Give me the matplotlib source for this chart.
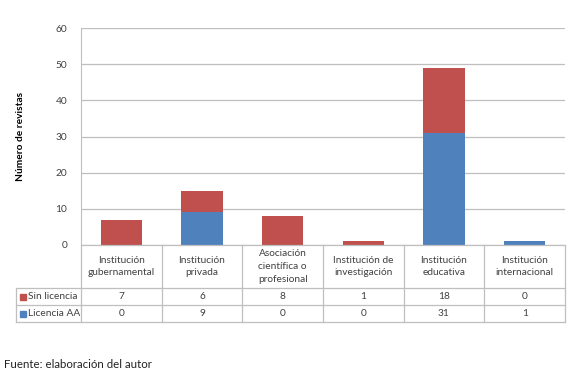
import numpy as np
import matplotlib.pyplot as plt
from matplotlib.lines import Line2D
from matplotlib.patches import Rectangle

plt.rcParams['font.family'] = ['Lato', 'DejaVu Sans']

categories = ["Institución\ngubernamental", "Institución\nprivada",
              "Asociación\ncientífica o\nprofesional", "Institución de\ninvestigación",
              "Institución\neducativa", "Institución\ninternacional"]
licencia_aa = [0, 9, 0, 0, 31, 1]
sin_licencia = [7, 6, 8, 1, 18, 0]
series_names = ["Sin licencia", "Licencia AA"]

RED = "#C0504D"
BLUE = "#4F81BD"
GRID = "#BFBFBF"
TEXT = "#404040"

W, H = 571, 379
fig = plt.figure(figsize=(W / 100, H / 100), dpi=100)

def fx(px):
    return px / W

def fy(py):
    return 1 - py / H

# plot area in pixel coords
left, right, top, bottom = 81, 565, 28, 245
ax = fig.add_axes([fx(left), fy(bottom), fx(right - left), (bottom - top) / H])

x = np.arange(len(categories))
ax.bar(x, licencia_aa, width=0.51, color=BLUE, zorder=3)
ax.bar(x, sin_licencia, width=0.51, bottom=licencia_aa, color=RED, zorder=3)

ax.set_xlim(-0.5, len(categories) - 0.5)
ax.set_ylim(0, 60)
ax.set_yticks(range(0, 61, 10))
ax.yaxis.grid(True, color=GRID, linewidth=0.9, zorder=0)
ax.set_xticks([])
ax.tick_params(axis='y', length=0, labelsize=7.3, colors=TEXT, pad=10)
for s in ['top', 'right', 'bottom']:
    ax.spines[s].set_visible(False)
ax.spines['left'].set_color(GRID)
ax.set_ylabel("Número de revistas", fontsize=7.3, fontweight='bold', labelpad=22)

# data table below the plot
row_bottoms = [288, 305, 322]
col_w = (right - left) / len(categories)
line_kw = dict(color=GRID, linewidth=0.9, transform=fig.transFigure)
# horizontal lines
fig.add_artist(Line2D([fx(left), fx(right)], [fy(bottom), fy(bottom)], **line_kw))
for yb in row_bottoms:
    fig.add_artist(Line2D([fx(16), fx(right)], [fy(yb), fy(yb)], **line_kw))
# vertical lines
fig.add_artist(Line2D([fx(16), fx(16)], [fy(row_bottoms[0]), fy(row_bottoms[-1])], **line_kw))
for i in range(len(categories) + 1):
    xv = left + i * col_w
    fig.add_artist(Line2D([fx(xv), fx(xv)], [fy(bottom), fy(row_bottoms[-1])], **line_kw))

for i, cat in enumerate(categories):
    xc = left + (i + 0.5) * col_w
    fig.text(fx(xc), fy((bottom + row_bottoms[0]) / 2), cat, ha='center', va='center',
             fontsize=7.3, color=TEXT, linespacing=1.5)
    fig.text(fx(xc), fy((row_bottoms[0] + row_bottoms[1]) / 2), str(sin_licencia[i]),
             ha='center', va='center', fontsize=7.3, color=TEXT)
    fig.text(fx(xc), fy((row_bottoms[1] + row_bottoms[2]) / 2), str(licencia_aa[i]),
             ha='center', va='center', fontsize=7.3, color=TEXT)

for j, (name, col) in enumerate(zip(series_names, [RED, BLUE])):
    yc = (row_bottoms[j] + row_bottoms[j + 1]) / 2
    fig.add_artist(Rectangle((fx(20), fy(yc + 3)), fx(6), 6 / H, color=col,
                             transform=fig.transFigure))
    fig.text(fx(28), fy(yc), name, ha='left', va='center', fontsize=7.3, color=TEXT)

fig.text(fx(4), fy(365), "Fuente: elaboración del autor", ha='left', va='center',
         fontsize=8.3, color="#222222")

fig.savefig("out.png", dpi=100)
